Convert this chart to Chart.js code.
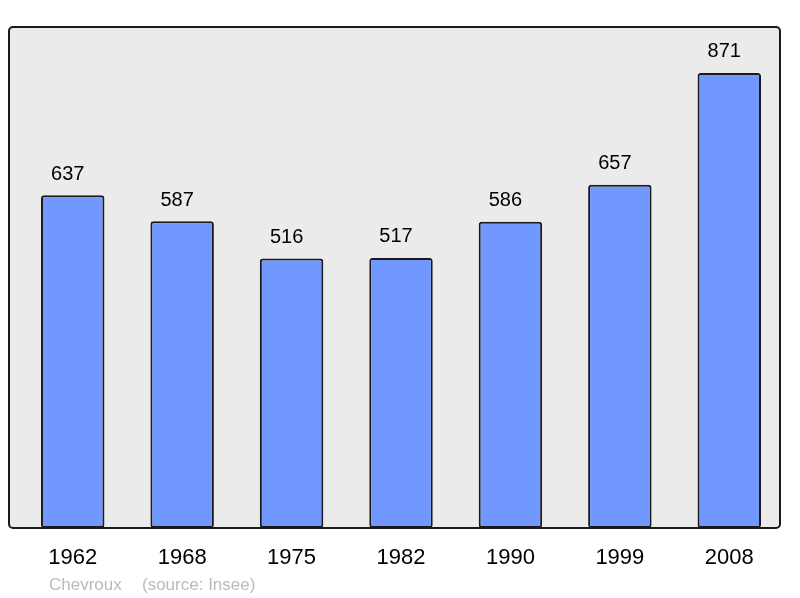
<!DOCTYPE html>
<html>
<head>
<meta charset="utf-8">
<script src="https://cdn.jsdelivr.net/npm/chart.js@4/dist/chart.umd.min.js"></script>
<style>
  html, body { margin: 0; padding: 0; background: #fff; }
  #wrap { width: 800px; height: 598px; position: relative; }
</style>
</head>
<body>
<div id="wrap"><canvas id="popChart"></canvas></div>
<script>
// 人口データ
const years = ["1962", "1968", "1975", "1982", "1990", "1999", "2008"];
const population = [637, 587, 516, 517, 586, 657, 871];
const townName = "Chevroux";
const sourceText = "(source: Insee)";

// 枠と背景、ラベルを描くプラグイン
const framePlugin = {
    id: "frame",
    beforeDraw(chart) {
        const { ctx, chartArea } = chart;
        const x0 = chartArea.left - 9, x1 = chartArea.right - 4;
        const y0 = chartArea.top, y1 = chartArea.bottom;
        ctx.save();
        ctx.beginPath();
        ctx.roundRect(x0, y0, x1 - x0, y1 - y0, 4);
        ctx.fillStyle = "#ebebeb";
        ctx.fill();
        ctx.restore();
    },
    afterDraw(chart) {
        const { ctx, chartArea } = chart;
        const x0 = chartArea.left - 9, x1 = chartArea.right - 4;
        const y0 = chartArea.top, y1 = chartArea.bottom;
        ctx.save();
        ctx.beginPath();
        ctx.roundRect(x0, y0, x1 - x0, y1 - y0, 4);
        ctx.lineWidth = 2;
        ctx.strokeStyle = "#1a1a1a";
        ctx.stroke();

        const xs = chart.scales.x, ys = chart.scales.y;
        ctx.fillStyle = "#000";
        ctx.textAlign = "center";
        ctx.textBaseline = "middle";
        // 値ラベル（少し左寄り）
        ctx.font = "20px 'Liberation Sans', Arial, sans-serif";
        population.forEach((v, i) => {
            ctx.fillText(String(v), xs.getPixelForValue(i) - 5, ys.getPixelForValue(v) - 21);
        });
        // 年ラベル
        ctx.font = "22px 'Liberation Sans', Arial, sans-serif";
        years.forEach((y, i) => {
            ctx.fillText(y, xs.getPixelForValue(i), chartArea.bottom + 30);
        });
        // 出典
        ctx.fillStyle = "#bbb";
        ctx.textAlign = "left";
        ctx.font = "17px 'Liberation Sans', Arial, sans-serif";
        ctx.fillText(townName, 49, 585);
        ctx.fillText(sourceText, 142, 585);
        ctx.restore();
    }
};

document.addEventListener("DOMContentLoaded", function () {
    const ctx = document.getElementById("popChart").getContext("2d");
    new Chart(ctx, {
        type: "bar",
        data: {
            labels: years,
            datasets: [{
                data: population,
                backgroundColor: "#7098ff",
                borderColor: "#1a1a1a",
                borderWidth: 2,
                borderRadius: 3,
                borderSkipped: false,
                barPercentage: 0.58,
                categoryPercentage: 1
            }]
        },
        options: {
            responsive: true,
            maintainAspectRatio: false,
            animation: false,
            layout: { padding: { left: 18, right: 16, top: 27, bottom: 70 } },
            plugins: {
                legend: { display: false },
                tooltip: { enabled: false }
            },
            scales: {
                x: { display: false },
                y: { display: false, min: 0, max: 959 }
            }
        },
        plugins: [framePlugin]
    });
});
</script>
</body>
</html>
